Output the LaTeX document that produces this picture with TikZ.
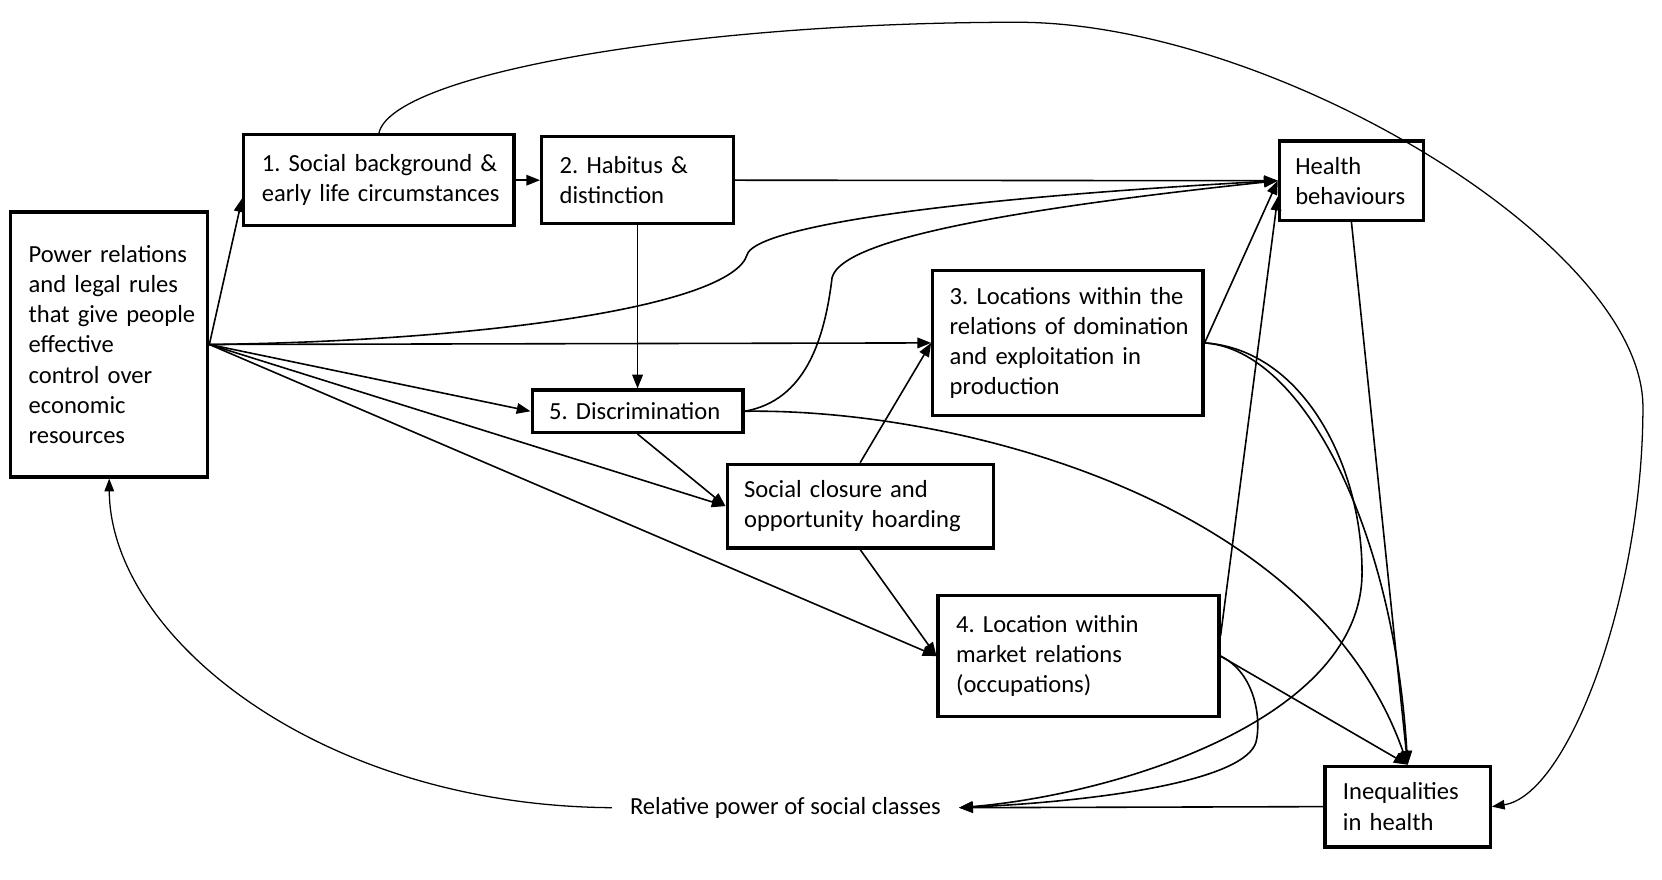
\documentclass[tikz,border=0pt]{standalone}
\usepackage{fontspec}
\setmainfont{Carlito}
\usetikzlibrary{arrows.meta,calc}
\newcommand{\tline}[1]{\mbox{#1}}
\begin{document}
\begin{tikzpicture}[x=1pt,y=-1pt,
  box/.style={draw,line width=3pt,align=left,inner xsep=17pt,inner ysep=0pt,
    font=\fontsize{23.2}{28.5}\selectfont\frenchspacing},
  plain/.style={inner xsep=17pt,inner ysep=2pt,font=\fontsize{23.2}{28.5}\selectfont},
  con/.style={line width=1.5pt,-{Triangle[length=13pt,width=10pt]}},
  thincon/.style={line width=1.2pt,-{Triangle[length=12pt,width=9pt]}}]
\fill[white] (0,0) rectangle (1568,830);
\useasboundingbox (0,0) rectangle (1568,830);

\node[box,text width=152pt,minimum height=250pt] (power) at (103,325)
  {\tline{Power relations}\\\tline{and legal rules}\\\tline{that give people}\\\tline{effective}\\\tline{control over}\\\tline{economic}\\\tline{resources}};
\node[box,text width=221pt,minimum height=86pt] (box1) at (357.5,170)
  {\tline{1. Social background \&}\\\tline{early life circumstances}};
\node[box,text width=147pt,minimum height=82pt] (box2) at (601.5,170)
  {\tline{2. Habitus \&}\\\tline{distinction}};
\node[box,inner xsep=15pt,text width=106pt,minimum height=75pt] (health) at (1275,170.5)
  {\tline{Health}\\\tline{behaviours}};
\node[box,inner xsep=16pt,text width=223pt,minimum height=137pt] (box3) at (1007.5,323.5)
  {\tline{3. Locations within the}\\\tline{relations of domination}\\\tline{and exploitation in}\\\tline{production}};
\node[box,inner xsep=16pt,text width=167pt,minimum height=40pt] (box5) at (601.5,388)
  {\tline{5. Discrimination}};
\node[box,inner xsep=16pt,text width=219pt,minimum height=79pt] (closure) at (811.5,477.5)
  {\tline{Social closure and}\\\tline{opportunity hoarding}};
\node[box,text width=231pt,minimum height=114pt] (box4) at (1017.5,619)
  {\tline{4. Location within}\\\tline{market relations}\\\tline{(occupations)}};
\node[box,text width=122pt,minimum height=76pt] (ineq) at (1328,761)
  {\tline{Inequalities}\\\tline{in health}};
\node[plain] (relpow) at (741,762) {Relative power of social classes};

% straight connectors
\draw[con] (power.east) -- ($(box1.west)+(0,17)$);
\draw[con] (box1.east) -- (box2.west);
\draw[con] (box2.east) -- (health.west);
\draw[con] (box2.south) -- (box5.north);
\draw[con] (power.east) -- (box3.west);
\draw[con] (power.east) -- (box5.west);
\draw[con] (power.east) -- (closure.west);
\draw[con] (power.east) -- (box4.west);
\draw[con] (box5.south) -- (closure.west);
\draw[con] (closure.north) -- (box3.west);
\draw[con] (closure.south) -- (box4.west);
\draw[con] (box3.east) -- (health.west);
\draw[con] ($(box4.east)+(0,-19)$) -- ($(health.west)+(0,15)$);
\draw[con] (health.south) -- (ineq.north);
\draw[con] (box4.east) -- (ineq.north);
\draw[con] (ineq.west) -- (relpow.east);

% curved connectors
\draw[con] (power.east) .. controls (450,322) and (690,290) .. (705,240)
  .. controls (712,218) and (850,190) .. (health.west);
\draw[con] (box5.east) .. controls (760,378) and (778,320) .. (785,262)
  .. controls (792,235) and (880,205) .. (health.west);
\draw[con] (box3.east) .. controls (1230,330) and (1315,500) .. (ineq.north);
\draw[con] (box5.east) .. controls (900,385) and (1240,470) .. (ineq.north);
\draw[con] (box3.east) .. controls (1230,330) and (1285,440) .. (1285,540)
  .. controls (1285,680) and (1050,750) .. (relpow.east);
\draw[con] (box4.east) .. controls (1185,635) and (1190,680) .. (1185,700)
  .. controls (1175,735) and (1050,755) .. (relpow.east);
\draw[thincon] (relpow.west) .. controls (300,760) and (104,600) .. (power.south);
\draw[thincon] (box1.north) .. controls (370,70) and (650,21) .. (960,21)
  .. controls (1200,21) and (1550,230) .. (1550,384)
  .. controls (1550,560) and (1480,750) .. (ineq.east);
\end{tikzpicture}
\end{document}
